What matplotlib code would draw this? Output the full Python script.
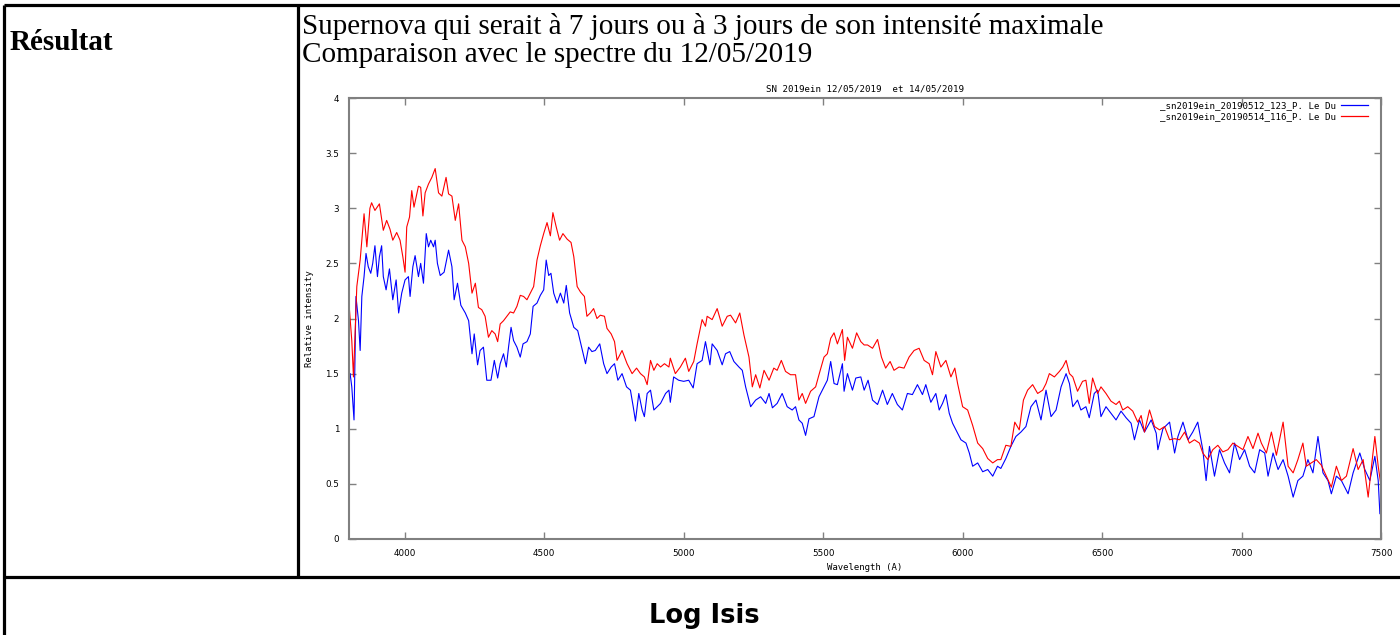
import matplotlib
matplotlib.use("Agg")
import matplotlib.pyplot as plt
from matplotlib.lines import Line2D

# spectre du 12/05/2019 (bleu)
wave_0512 = [3804, 3810, 3818, 3825, 3834, 3840, 3846, 3854, 3861, 3869, 3878, 3885, 3893, 3902,
             3909, 3917, 3923, 3933, 3945, 3957, 3969, 3978, 3989, 4001, 4013, 4019, 4029, 4037,
             4049, 4057, 4067, 4077, 4085, 4093, 4103, 4109, 4117, 4127, 4141, 4157, 4169, 4177,
             4189, 4201, 4217, 4229, 4241, 4249, 4261, 4270, 4282, 4294, 4309, 4321, 4333, 4342,
             4354, 4364, 4372, 4381, 4390, 4402, 4414, 4424, 4438, 4450, 4460, 4474, 4486, 4498,
             4507, 4516, 4524, 4534, 4546, 4558, 4570, 4579, 4591, 4606, 4620, 4632, 4648, 4659,
             4671, 4683, 4699, 4713, 4725, 4740, 4752, 4764, 4779, 4795, 4809, 4819, 4827, 4839,
             4851, 4859, 4869, 4881, 4893, 4905, 4917, 4935, 4947,
             4952, 4964, 4982, 5000, 5018, 5034, 5048, 5066, 5078, 5094, 5102, 5120, 5138, 5150,
             5165, 5180, 5198, 5210, 5222, 5240, 5258, 5276, 5294, 5306, 5318, 5335, 5353, 5371,
             5389, 5401, 5413, 5425, 5437, 5449, 5467, 5485, 5503, 5515, 5527, 5539, 5551, 5569,
             5575, 5587, 5605, 5617, 5635, 5647, 5661, 5677, 5695, 5713, 5730, 5748, 5766, 5784,
             5802, 5820, 5838, 5856, 5868, 5886, 5904, 5916, 5928, 5940, 5952, 5964, 5976, 5994,
             6012, 6024, 6036, 6054, 6072, 6090, 6108, 6125,
             6137, 6155, 6173, 6191, 6209, 6227, 6245, 6263, 6281, 6299, 6317, 6335, 6353, 6371,
             6383, 6395, 6412, 6424, 6442, 6454, 6472, 6484, 6496, 6514, 6532, 6550, 6568, 6586,
             6604, 6616, 6634, 6652, 6676, 6694, 6700, 6718, 6742, 6760, 6772, 6790, 6808, 6825,
             6843, 6861, 6873, 6885, 6903, 6921, 6939, 6957, 6975, 6993, 7011, 7029, 7047, 7065,
             7083, 7095, 7113, 7131, 7149, 7167, 7185, 7202, 7220, 7238, 7256, 7274, 7292, 7310,
             7322, 7340, 7358, 7382, 7400, 7424, 7442, 7460, 7478, 7490, 7496]
flux_0512 = [1.50, 1.38, 1.08, 2.20, 1.98, 1.71, 2.20, 2.38, 2.59, 2.47, 2.41, 2.50, 2.66, 2.38,
             2.56, 2.66, 2.38, 2.26, 2.45, 2.17, 2.35, 2.05, 2.23, 2.35, 2.38, 2.20, 2.47, 2.57,
             2.38, 2.50, 2.32, 2.77, 2.65, 2.71, 2.65, 2.71, 2.50, 2.39, 2.42, 2.62, 2.47, 2.17,
             2.32, 2.12, 2.05, 1.98, 1.68, 1.86, 1.58, 1.71, 1.74, 1.44, 1.44, 1.62, 1.46, 1.59,
             1.68, 1.56, 1.74, 1.92, 1.80, 1.74, 1.65, 1.77, 1.79, 1.86, 2.11, 2.14, 2.21, 2.26,
             2.53, 2.39, 2.41, 2.23, 2.14, 2.23, 2.14, 2.30, 2.05, 1.92, 1.89, 1.76, 1.59, 1.74,
             1.70, 1.71, 1.77, 1.59, 1.50, 1.56, 1.59, 1.44, 1.50, 1.38, 1.35, 1.20, 1.07, 1.32,
             1.17, 1.11, 1.32, 1.35, 1.17, 1.20, 1.23, 1.32, 1.35,
             1.24, 1.47, 1.44, 1.43, 1.44, 1.37, 1.59, 1.62, 1.79, 1.58, 1.77, 1.71, 1.58, 1.68,
             1.70, 1.61, 1.56, 1.53, 1.38, 1.20, 1.26, 1.29, 1.23, 1.32, 1.19, 1.23, 1.32, 1.20,
             1.17, 1.20, 1.08, 1.05, 0.94, 1.09, 1.11, 1.29, 1.38, 1.44, 1.61, 1.41, 1.40, 1.59,
             1.34, 1.50, 1.35, 1.46, 1.47, 1.35, 1.44, 1.26, 1.22, 1.35, 1.22, 1.32, 1.22, 1.17,
             1.32, 1.31, 1.40, 1.31, 1.40, 1.24, 1.32, 1.17, 1.23, 1.31, 1.14, 1.05, 0.99, 0.90,
             0.87, 0.78, 0.66, 0.69, 0.61, 0.63, 0.57, 0.66,
             0.64, 0.73, 0.84, 0.93, 0.97, 1.02, 1.20, 1.26, 1.08, 1.35, 1.11, 1.17, 1.38, 1.50,
             1.41, 1.20, 1.26, 1.17, 1.20, 1.10, 1.32, 1.35, 1.11, 1.20, 1.14, 1.08, 1.16, 1.10,
             1.05, 0.90, 1.08, 0.97, 1.08, 0.96, 0.81, 1.00, 1.06, 0.78, 0.93, 1.06, 0.90, 0.97,
             1.06, 0.81, 0.53, 0.84, 0.57, 0.81, 0.69, 0.60, 0.87, 0.72, 0.81, 0.66, 0.60, 0.81,
             0.78, 0.57, 0.78, 0.63, 0.72, 0.57, 0.38, 0.53, 0.57, 0.72, 0.60, 0.93, 0.60, 0.53,
             0.41, 0.57, 0.53, 0.41, 0.60, 0.78, 0.63, 0.53, 0.75, 0.53, 0.23]

# spectre du 14/05/2019 (rouge)
wave_0514 = [3801, 3810, 3816, 3828, 3840, 3854, 3864, 3875, 3881, 3893, 3909, 3917, 3923, 3935,
             3947, 3957, 3971, 3983, 3993, 4001, 4007, 4017, 4025, 4033, 4049, 4057, 4065, 4073,
             4085, 4097, 4109, 4121, 4133, 4148, 4157, 4169, 4181, 4193, 4205, 4217, 4229, 4241,
             4253, 4264, 4276, 4288, 4300, 4312, 4324, 4333, 4342, 4354, 4366, 4378, 4390, 4402,
             4414, 4426, 4438, 4450, 4462, 4474, 4486, 4498, 4510, 4522, 4531, 4543, 4555, 4567,
             4582, 4596, 4606, 4618, 4630, 4644, 4653, 4665, 4677, 4689, 4701, 4716, 4725, 4740,
             4752, 4761, 4779, 4797, 4815, 4831, 4845, 4859, 4869, 4881, 4893, 4905, 4917, 4931,
             4947,
             4952, 4970, 4988, 5006, 5018, 5036, 5048, 5066, 5078, 5084, 5102, 5120, 5138, 5156,
             5168, 5186, 5201, 5216, 5234, 5246, 5258, 5273, 5288, 5306, 5323, 5335, 5350, 5365,
             5383, 5401, 5413, 5425, 5437, 5455, 5473, 5485, 5503, 5515, 5527, 5539, 5551, 5569,
             5577, 5587, 5605, 5620, 5635, 5647, 5659, 5677, 5695, 5709, 5724, 5740, 5754, 5772,
             5790, 5808, 5826, 5844, 5862, 5880, 5892, 5904, 5922, 5940, 5958, 5972, 5982, 6000,
             6018, 6036, 6054, 6072, 6090, 6108, 6125,
             6137, 6155, 6173, 6187, 6203, 6218, 6233, 6251, 6269, 6287, 6299, 6311, 6329, 6347,
             6359, 6371, 6383, 6395, 6412, 6430, 6442, 6454, 6466, 6484, 6496, 6514, 6532, 6550,
             6562, 6574, 6592, 6610, 6628, 6640, 6652, 6670, 6688, 6706, 6724, 6742, 6760, 6778,
             6796, 6813, 6831, 6849, 6861, 6879, 6897, 6915, 6933, 6951, 6969, 6987, 7005, 7023,
             7041, 7059, 7071, 7089, 7107, 7125, 7149, 7167, 7185, 7202, 7220, 7232, 7250, 7268,
             7286, 7304, 7322, 7340, 7358, 7376, 7400, 7418, 7436, 7454, 7466, 7478, 7490, 7499]
flux_0514 = [2.10, 1.80, 1.47, 2.29, 2.53, 2.95, 2.65, 3.00, 3.05, 2.98, 3.04, 2.90, 2.80, 2.89,
             2.81, 2.71, 2.78, 2.71, 2.56, 2.42, 2.83, 2.92, 3.16, 3.01, 3.20, 3.19, 2.93, 3.14,
             3.22, 3.28, 3.36, 3.14, 3.11, 3.28, 3.13, 3.11, 2.89, 3.04, 2.71, 2.65, 2.50, 2.23,
             2.32, 2.10, 2.08, 2.02, 1.83, 1.89, 1.86, 1.79, 1.95, 1.98, 2.02, 2.06, 2.05, 2.11,
             2.21, 2.20, 2.17, 2.23, 2.29, 2.53, 2.66, 2.77, 2.87, 2.75, 2.96, 2.83, 2.71, 2.77,
             2.72, 2.69, 2.56, 2.29, 2.24, 2.20, 2.02, 2.05, 2.09, 2.00, 2.03, 2.02, 1.91, 1.86,
             1.79, 1.62, 1.71, 1.59, 1.50, 1.55, 1.50, 1.47, 1.40, 1.62, 1.53, 1.59, 1.56, 1.59,
             1.56,
             1.64, 1.50, 1.56, 1.64, 1.52, 1.61, 1.77, 1.99, 1.93, 2.02, 1.99, 2.09, 1.93, 2.02,
             2.03, 1.96, 2.05, 1.85, 1.65, 1.38, 1.49, 1.37, 1.53, 1.44, 1.55, 1.53, 1.62, 1.52,
             1.49, 1.49, 1.26, 1.32, 1.23, 1.34, 1.38, 1.49, 1.65, 1.68, 1.82, 1.87, 1.77, 1.90,
             1.62, 1.83, 1.73, 1.87, 1.79, 1.76, 1.76, 1.73, 1.81, 1.65, 1.55, 1.61, 1.53, 1.56,
             1.55, 1.65, 1.71, 1.73, 1.62, 1.59, 1.49, 1.70, 1.56, 1.62, 1.47, 1.55, 1.41, 1.20,
             1.17, 1.03, 0.87, 0.82, 0.73, 0.69, 0.72,
             0.72, 0.85, 0.84, 1.06, 0.99, 1.26, 1.35, 1.40, 1.32, 1.35, 1.41, 1.50, 1.47, 1.52,
             1.56, 1.62, 1.50, 1.47, 1.34, 1.43, 1.44, 1.23, 1.46, 1.32, 1.38, 1.32, 1.25, 1.22,
             1.25, 1.17, 1.20, 1.16, 1.06, 1.12, 0.97, 1.17, 1.02, 0.99, 1.02, 0.90, 0.91, 0.90,
             0.97, 0.87, 0.90, 0.87, 0.78, 0.72, 0.81, 0.85, 0.79, 0.81, 0.87, 0.84, 0.81, 0.93,
             0.82, 0.96, 0.87, 0.78, 0.97, 0.76, 1.06, 0.66, 0.60, 0.72, 0.87, 0.66, 0.69, 0.72,
             0.67, 0.57, 0.47, 0.66, 0.53, 0.57, 0.82, 0.63, 0.72, 0.38, 0.66, 0.93, 0.66, 0.50]

labels = ["_sn2019ein_20190512_123_P. Le Du", "_sn2019ein_20190514_116_P. Le Du"]
x_ticks = [4000, 4500, 5000, 5500, 6000, 6500, 7000, 7500]
y_ticks = [0, 0.5, 1, 1.5, 2, 2.5, 3, 3.5, 4]
y_ticklabels = ["0", "0.5", "1", "1.5", "2", "2.5", "3", "3.5", "4"]

W, H = 1400, 635
fig = plt.figure(figsize=(14, 6.35), dpi=100)

# fond : le tableau du compte rendu, en pixels
bg = fig.add_axes([0, 0, 1, 1])
bg.set_xlim(0, W)
bg.set_ylim(H, 0)
bg.axis("off")
lw_tab = 2.3
bg.plot([4, W], [5, 5], color="black", lw=lw_tab, solid_capstyle="butt")
bg.plot([4, 4], [5, H], color="black", lw=lw_tab, solid_capstyle="butt")
bg.plot([298, 298], [5, 577], color="black", lw=lw_tab, solid_capstyle="butt")
bg.plot([4, W], [577, 577], color="black", lw=lw_tab, solid_capstyle="butt")

bg.text(10, 42, "Résultat", family="Liberation Serif", weight="bold", fontsize=21,
        ha="left", va="center")
bg.text(302, 26, "Supernova qui serait à 7 jours ou à 3 jours de son intensité maximale",
        family="Liberation Serif", fontsize=21, ha="left", va="center")
bg.text(302, 55, "Comparaison avec le spectre du 12/05/2019",
        family="Liberation Serif", fontsize=21, ha="left", va="center")
bg.text(704, 616, "Log Isis", family="DejaVu Sans", weight="bold", fontsize=18.5,
        ha="center", va="center")

# graphique gnuplot
ax = fig.add_axes([349 / W, 1 - 539 / H, 1032 / W, 441 / H])
ax.plot(wave_0512, flux_0512, color="#0000ff", lw=0.8)
ax.plot(wave_0514, flux_0514, color="#ff0000", lw=0.8)
ax.set_xlim(3800, 7500)
ax.set_ylim(0, 4)
ax.set_xticks(x_ticks)
ax.set_yticks(y_ticks)
ax.set_yticklabels(y_ticklabels)
ax.tick_params(direction="in", top=True, right=True, length=5, width=1, color="#808080",
               labelsize=6.3, pad=7)
for s in ax.spines.values():
    s.set_color("#808080")
    s.set_linewidth(1.5)
mono = "DejaVu Sans Mono"
ax.set_xlabel("Wavelength (A)", family=mono, fontsize=6.5, labelpad=4)
ax.set_ylabel("Relative intensity", family=mono, fontsize=6.5, labelpad=8)
ax.set_title("SN 2019ein 12/05/2019  et 14/05/2019", family=mono, fontsize=6.6, pad=5)

handles = [Line2D([], [], color="#0000ff", lw=0.9), Line2D([], [], color="#ff0000", lw=0.9)]
ax.legend(handles, labels, loc="upper right", bbox_to_anchor=(0.9874, 0.993),
          frameon=False, markerfirst=False, borderpad=0, borderaxespad=0,
          handlelength=2.9, handletextpad=0.55, labelspacing=0.25,
          prop={"family": mono, "size": 6.6})

fig.savefig("out.png", dpi=100)
